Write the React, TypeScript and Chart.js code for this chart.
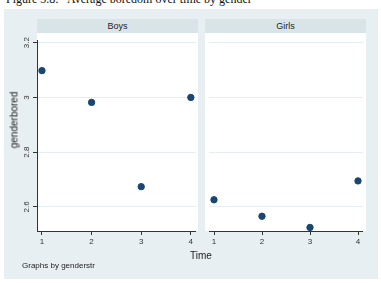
import React, { useEffect, useRef } from "react";
import { Chart, registerables } from "chart.js";

Chart.register(...registerables);

const times = [1, 2, 3, 4];
const boysValues = [3.098, 2.982, 2.674, 3.0];
const girlsValues = [2.626, 2.566, 2.525, 2.695];
const yTicks = [2.6, 2.8, 3, 3.2];
const xTicks = [1, 2, 3, 4];
const panelTitles = ["Boys", "Girls"];
const yTitle = "genderbored";
const xTitle = "Time";
const note = "Graphs by genderstr";
const caption = "Figure 3.8:   Average boredom over time by gender";

const FONT = '"Liberation Sans", Arial, sans-serif';
const MARKER = "#1a476f";
const BG = "#e8eff2";
const HEADER = "#d9e4e9";
const GRID = "#e6edf0";
const AXIS = "#333333";

function Panel(props: { values: number[]; showY: boolean; left: number; width: number; padRight: number }) {
  const ref = useRef<HTMLCanvasElement>(null);
  useEffect(() => {
    if (!ref.current) return;
    const showY = props.showY;
    const yLabelPlugin = {
      id: "ylabels",
      afterDraw(chart: any) {
        if (!showY) return;
        const ctx = chart.ctx;
        const ys = chart.scales.y;
        ctx.save();
        ctx.fillStyle = AXIS;
        ctx.font = `8px ${FONT}`;
        ctx.textAlign = "center";
        ctx.textBaseline = "middle";
        yTicks.forEach((v) => {
          const py = ys.getPixelForValue(v);
          ctx.save();
          ctx.translate(27, py);
          ctx.rotate(-Math.PI / 2);
          ctx.fillText(String(v), 0, 0);
          ctx.restore();
        });
        ctx.restore();
      },
    };
    const chart = new Chart(ref.current, {
      type: "scatter",
      data: {
        datasets: [
          {
            data: times.map((t, i) => ({ x: t, y: props.values[i] })),
            backgroundColor: MARKER,
            borderColor: MARKER,
            pointRadius: 3.2,
            pointHoverRadius: 3.2,
            clip: false as any,
          },
        ],
      },
      options: {
        animation: false,
        responsive: false,
        maintainAspectRatio: false,
        layout: { padding: { left: 0, right: props.padRight, top: 0, bottom: 0 } },
        plugins: { legend: { display: false }, tooltip: { enabled: false } },
        scales: {
          x: {
            type: "linear",
            min: 0.9,
            max: 4.1,
            afterBuildTicks: (s: any) => {
              s.ticks = xTicks.map((v) => ({ value: v }));
            },
            afterFit: (s: any) => {
              s.height = 20;
            },
            grid: { drawOnChartArea: false, drawTicks: true, tickLength: 4, tickColor: AXIS },
            border: { display: true, color: AXIS, width: 1 },
            ticks: { color: AXIS, font: { size: 8, family: FONT }, padding: 2, maxRotation: 0, autoSkip: false },
          },
          y: {
            type: "linear",
            min: 2.512,
            max: 3.207,
            afterBuildTicks: (s: any) => {
              s.ticks = yTicks.map((v) => ({ value: v }));
            },
            afterFit: (s: any) => {
              s.width = showY ? 37 : 0;
            },
            grid: { color: GRID, lineWidth: 1, drawTicks: showY, tickLength: 4, tickColor: AXIS },
            border: { display: showY, color: AXIS, width: 1 },
            ticks: { color: "rgba(0,0,0,0)", font: { size: 8, family: FONT } },
          },
        },
      },
      plugins: [yLabelPlugin],
    });
    return () => chart.destroy();
  }, []);
  return (
    <canvas
      ref={ref}
      width={props.width}
      height={218}
      style={{ position: "absolute", left: props.left, top: 33, width: props.width, height: 218 }}
    />
  );
}

export default function App() {
  const text = (s: React.CSSProperties) => ({ position: "absolute" as const, fontFamily: FONT, color: "#222", whiteSpace: "nowrap" as const, ...s });
  return (
    <div style={{ position: "absolute", left: 0, top: 0, width: 381, height: 283, background: "#fff", overflow: "hidden" }}>
      <div style={{ position: "absolute", left: 6, top: -8, fontFamily: '"Liberation Serif", "Times New Roman", serif', fontSize: 12, color: "#111", whiteSpace: "pre" }}>
        {caption}
      </div>
      <div style={{ position: "absolute", left: 4, top: 9, width: 374, height: 270, background: BG }} />
      <div style={{ position: "absolute", left: 37, top: 19, width: 161, height: 14, background: HEADER }} />
      <div style={{ position: "absolute", left: 205, top: 19, width: 161, height: 14, background: HEADER }} />
      <div style={text({ left: 37, top: 19, width: 161, height: 14, lineHeight: "14px", textAlign: "center", fontSize: 9 })}>{panelTitles[0]}</div>
      <div style={text({ left: 205, top: 19, width: 161, height: 14, lineHeight: "14px", textAlign: "center", fontSize: 9 })}>{panelTitles[1]}</div>
      <div style={{ position: "absolute", left: 37, top: 33, width: 161, height: 198, background: "#fff" }} />
      <div style={{ position: "absolute", left: 205, top: 33, width: 161, height: 198, background: "#fff" }} />
      <Panel values={boysValues} showY={true} left={0} width={200} padRight={3} />
      <Panel values={girlsValues} showY={false} left={205} width={162} padRight={2} />
      <div style={text({ left: 14, top: 120, fontSize: 10, transform: "translate(-50%, -50%) rotate(-90deg)" })}>{yTitle}</div>
      <div style={text({ left: 201, top: 255, fontSize: 10, transform: "translate(-50%, -50%)" })}>{xTitle}</div>
      <div style={text({ left: 22, top: 261, fontSize: 8 })}>{note}</div>
    </div>
  );
}
